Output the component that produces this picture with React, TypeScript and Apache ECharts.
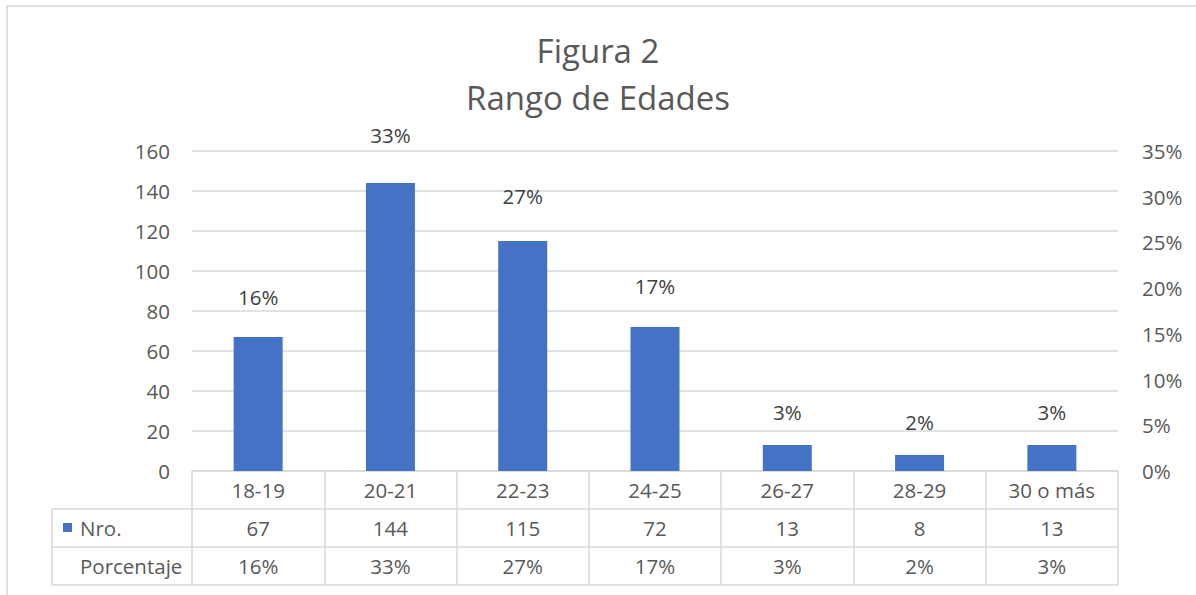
import React, { useEffect, useRef } from "react";
import * as echarts from "echarts";

const categories = ["18-19", "20-21", "22-23", "24-25", "26-27", "28-29", "30 o más"];
const nro = [67, 144, 115, 72, 13, 8, 13];
const porcentaje = [15.5, 33.3, 26.6, 16.7, 3.0, 1.9, 3.0];
const leftTicks = { min: 0, max: 160, interval: 20 };
const rightTicks = { min: 0, max: 35, interval: 5 };

const FONT = "'Open Sans', Lato, sans-serif";
const FS = 20.5;
const TXT = "#595959";
const LINE = "#D9D9D9";

const GRID_L = 192;
const GRID_R = 1118;
const GRID_T = 151;
const GRID_B = 471;
const ROW_H = 38;
const TABLE_L = 52;

const pct = (v: number) => Math.round(v) + "%";

export default function App() {
  const ref = useRef<HTMLDivElement>(null);
  useEffect(() => {
    document.body.style.margin = "0";
    const chart = echarts.init(ref.current!, undefined, { renderer: "svg" });
    const W = 1196;
    const H = 595;
    const tableLines: any[] = [];
    [1, 2, 3].forEach((i) => {
      tableLines.push({
        type: "line",
        shape: { x1: TABLE_L, y1: GRID_B + ROW_H * i, x2: GRID_R, y2: GRID_B + ROW_H * i },
        style: { stroke: LINE, lineWidth: 1.5 },
        silent: true,
      });
    });
    tableLines.push({
      type: "line",
      shape: { x1: TABLE_L, y1: GRID_B + ROW_H, x2: TABLE_L, y2: GRID_B + ROW_H * 3 },
      style: { stroke: LINE, lineWidth: 1.5 },
      silent: true,
    });
    const bottomAxis = (data: string[], offset: number, isMain: boolean) => ({
      type: "category",
      data,
      position: "bottom",
      offset,
      gridIndex: 0,
      axisLine: isMain ? { show: true, lineStyle: { color: LINE, width: 1.5 } } : { show: false },
      axisTick: isMain
        ? { show: true, length: ROW_H * 3, interval: 0, alignWithLabel: false, lineStyle: { color: LINE, width: 1.5 } }
        : { show: false },
      axisLabel: {
        interval: 0,
        color: TXT,
        fontFamily: FONT,
        fontSize: FS,
        verticalAlign: "middle",
        margin: ROW_H / 2,
      },
      splitLine: { show: false },
    });
    chart.setOption({
      animation: false,
      backgroundColor: "#fff",
      title: {
        text: "Figura 2\nRango de Edades",
        left: "center",
        top: 27,
        padding: 0,
        textStyle: {
          color: TXT,
          fontFamily: FONT,
          fontSize: 33,
          fontWeight: "normal",
          lineHeight: 47,
        },
      },
      legend: {
        data: ["Nro."],
        left: 63,
        top: GRID_B + ROW_H * 1.5 - 11,
        itemWidth: 9,
        itemHeight: 9,
        icon: "rect",
        padding: 0,
        textStyle: { color: TXT, fontFamily: FONT, fontSize: FS, padding: [0, 0, 0, 3] },
        selectedMode: false,
      },
      grid: {
        left: GRID_L,
        right: W - GRID_R,
        top: GRID_T,
        bottom: H - GRID_B,
        containLabel: false,
      },
      xAxis: [
        bottomAxis(categories, 0, true),
        bottomAxis(nro.map(String), ROW_H, false),
        bottomAxis(porcentaje.map(pct), ROW_H * 2, false),
      ],
      yAxis: [
        {
          type: "value",
          ...leftTicks,
          axisLine: { show: false },
          axisTick: { show: false },
          axisLabel: { color: TXT, fontFamily: FONT, fontSize: FS, margin: 22 },
          splitLine: { show: true, lineStyle: { color: LINE, width: 1.5 } },
        },
        {
          type: "value",
          ...rightTicks,
          position: "right",
          axisLine: { show: false },
          axisTick: { show: false },
          axisLabel: { color: TXT, fontFamily: FONT, fontSize: FS, margin: 24, formatter: "{value}%" },
          splitLine: { show: false },
        },
      ],
      series: [
        {
          name: "Nro.",
          type: "bar",
          data: nro,
          xAxisIndex: 0,
          yAxisIndex: 0,
          barWidth: 49,
          itemStyle: { color: "#4472C4" },
          z: 3,
        },
        {
          name: "Porcentaje",
          type: "line",
          data: porcentaje,
          xAxisIndex: 0,
          yAxisIndex: 1,
          symbol: "circle",
          symbolSize: 1,
          itemStyle: { color: "rgba(0,0,0,0)" },
          lineStyle: { width: 0, opacity: 0 },
          label: {
            show: true,
            position: "top",
            distance: 21,
            color: "#404040",
            fontFamily: FONT,
            fontSize: FS,
            formatter: (p: any) => pct(p.value),
          },
          z: 4,
        },
      ],
      graphic: [
        {
          type: "rect",
          shape: { x: 7, y: 6, width: 1200, height: 600 },
          style: { fill: "none", stroke: LINE, lineWidth: 1.5 },
          silent: true,
        },
        ...tableLines,
        {
          type: "text",
          x: 80,
          y: GRID_B + ROW_H * 2.5,
          style: {
            text: "Porcentaje",
            fill: TXT,
            font: `${FS}px ${FONT}`,
            textVerticalAlign: "middle",
            verticalAlign: "middle",
          },
          silent: true,
        },
      ],
    });
    return () => chart.dispose();
  }, []);
  return <div ref={ref} style={{ width: 1196, height: 595 }} />;
}
